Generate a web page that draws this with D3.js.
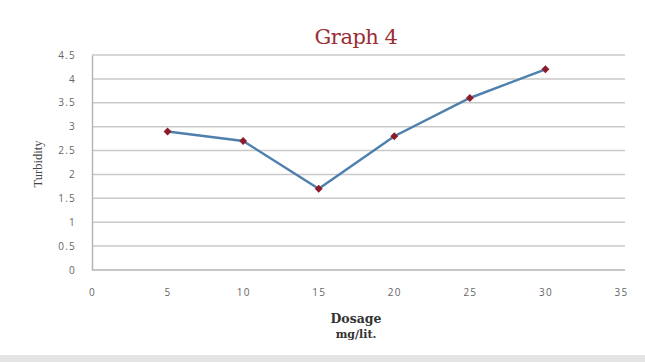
<!DOCTYPE html>
<html>
<head>
<meta charset="utf-8">
<script src="https://cdn.jsdelivr.net/npm/d3@7/dist/d3.min.js"></script>
<style>
  html, body { margin: 0; padding: 0; background: #fff; }
  svg { display: block; }
</style>
</head>
<body>
<svg id="chart" width="645" height="362"></svg>
<script>
// Turbidity measured at each coagulant dosage
const dosage = [5, 10, 15, 20, 25, 30];
const turbidity = [2.9, 2.7, 1.7, 2.8, 3.6, 4.2];
const xTicks = [0, 5, 10, 15, 20, 25, 30, 35];
const yTicks = [0, 0.5, 1, 1.5, 2, 2.5, 3, 3.5, 4, 4.5];

const W = 645, H = 362;
const margin = { left: 92, right: 22, top: 55, bottom: 92 };
const svg = d3.select("#chart");

const x = d3.scaleLinear().domain([0, 35]).range([margin.left, 621]);
const y = d3.scaleLinear().domain([0, 4.5]).range([H - margin.bottom, margin.top]);

const tickFont = sel => sel
  .attr("fill", "#666")
  .style("font-family", "'Open Sans', sans-serif")
  .style("font-size", "10px")
  .style("letter-spacing", "1.2px");

// Horizontal gridlines
svg.append("g")
  .selectAll("line")
  .data(yTicks.filter(d => d > 0))
  .join("line")
  .attr("x1", margin.left).attr("x2", 625)
  .attr("y1", d => y(d)).attr("y2", d => y(d))
  .attr("stroke", "#c9c9c9").attr("stroke-width", 1.5);

// Y axis
const yAxis = svg.append("g")
  .attr("transform", `translate(${margin.left},0)`)
  .call(d3.axisLeft(y).tickValues(yTicks).tickSize(0).tickPadding(16).tickFormat(d3.format("")));
yAxis.select(".domain").attr("stroke", "#b5b5b5").attr("stroke-width", 1.5);
yAxis.selectAll("text").call(tickFont);

// X axis
const xAxis = svg.append("g")
  .attr("transform", `translate(0,${y(0)})`)
  .call(d3.axisBottom(x).tickValues(xTicks).tickSize(0).tickPadding(19).tickFormat(d3.format("")));
xAxis.select(".domain").attr("stroke", "#b5b5b5").attr("stroke-width", 1.5)
  .attr("d", `M${margin.left},0H625`);
xAxis.selectAll("text").call(tickFont);

const pts = dosage.map((d, i) => [d, turbidity[i]]);

// Series line
svg.append("path")
  .datum(pts)
  .attr("fill", "none")
  .attr("stroke", "#4f80ad")
  .attr("stroke-width", 2.5)
  .attr("d", d3.line().x(d => x(d[0])).y(d => y(d[1])));

// Diamond markers
svg.append("g")
  .selectAll("path")
  .data(pts)
  .join("path")
  .attr("transform", d => `translate(${x(d[0])},${y(d[1])})`)
  .attr("d", d3.symbol(d3.symbolDiamond2, 40)())
  .attr("fill", "#8e1b2c");

// Title
svg.append("text")
  .attr("x", 356).attr("y", 44)
  .attr("text-anchor", "middle")
  .attr("fill", "#9a2e35")
  .style("font-family", "'DejaVu Serif', serif")
  .style("font-size", "21px")
  .style("letter-spacing", "-0.5px")
  .text("Graph 4");

// Y axis label
svg.append("text")
  .attr("transform", "translate(42,164) rotate(-90)")
  .attr("text-anchor", "middle")
  .attr("fill", "#444")
  .style("font-family", "'Liberation Serif', serif")
  .style("font-size", "12.5px")
  .text("Turbidity");

// X axis label
svg.append("text")
  .attr("x", 356).attr("y", 323)
  .attr("text-anchor", "middle")
  .attr("fill", "#333")
  .style("font-family", "'DejaVu Serif', serif")
  .style("font-size", "12.5px")
  .style("font-weight", "bold")
  .text("Dosage");
svg.append("text")
  .attr("x", 356).attr("y", 338)
  .attr("text-anchor", "middle")
  .attr("fill", "#333")
  .style("font-family", "'DejaVu Serif', serif")
  .style("font-size", "11px")
  .style("font-weight", "bold")
  .text("mg/lit.");

// Light band along the bottom edge
svg.append("rect")
  .attr("x", 0).attr("y", 355).attr("width", W).attr("height", 7)
  .attr("fill", "#e4e4e4");
</script>
</body>
</html>
